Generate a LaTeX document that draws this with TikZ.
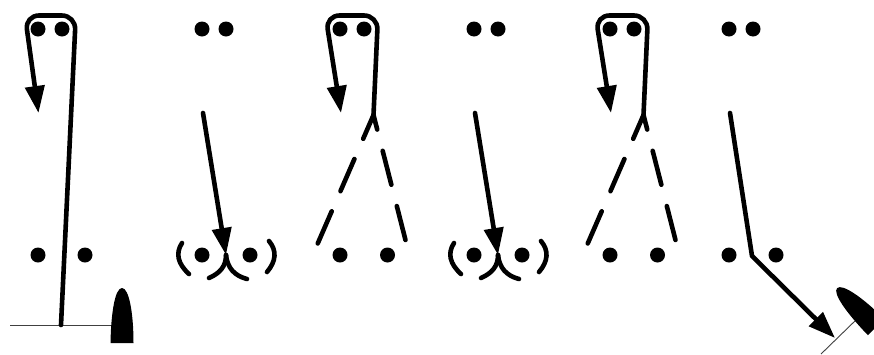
\documentclass[tikz,border=0pt]{standalone}
\usetikzlibrary{arrows.meta}
\tikzset{
  dot/.style={circle,fill=black,inner sep=0pt,minimum size=15pt},
  strand/.style={draw=black,line width=4.6pt,line cap=round,line join=round},
  rel/.style={strand,-{Triangle[length=27pt,width=19pt]}},
  dashstrand/.style={strand,dash pattern=on 35pt off 22pt},
  hair/.style={draw=black!75,line width=0.9pt},
  paddle/.style={fill=black,draw=none}
}
\newcommand{\paddleshape}{(-11.5,0) .. controls (-11,-30) and (-7,-55) .. (0,-55) .. controls (7,-55) and (11.5,-30) .. (11.5,0) -- cycle}
\begin{document}
\begin{tikzpicture}[x=1pt,y=-1pt]
  \useasboundingbox (0,0) rectangle (874,354);

  \node[dot] (a1) at (38,29) {};
  \node[dot] (a2) at (62,29) {};
  \node[dot] (a3) at (38,255) {};
  \node[dot] (a4) at (85,255) {};
  \coordinate (afoot) at (61,325);
  \coordinate (ahairl) at (10,325);
  \coordinate (ahairr) at (112,325);
  \coordinate (atip) at (38.5,113);
  \draw[hair] (ahairl) -- (ahairr);
  \fill[paddle,shift={(122,343)}] \paddleshape;
  \draw[rel,rounded corners=14pt] (afoot) -- (75.8,15.5) -- (25,15.5) -- (atip);

  \foreach \px/\pn in {340/c,610/e}{
    \node[dot] (\pn1) at (\px,29) {};
    \node[dot] (\pn2) at (\px+24,29) {};
    \node[dot] (\pn3) at (\px,255) {};
    \node[dot] (\pn4) at (\px+47.5,255) {};
    \coordinate (\pn fork) at (\px+33.5,115);
    \coordinate (\pn left) at (\px-22.5,244);
    \coordinate (\pn right) at (\px+66,242);
    \coordinate (\pn tip) at (\px+1,113);
    \draw[rel,rounded corners=14pt] (\pn fork) -- (\px+38,15.5) -- (\px-14.5,15.5) -- (\pn tip);
    \draw[dashstrand,dash phase=9pt] (\pn fork) -- (\pn left);
    \draw[dashstrand,dash phase=20pt] (\pn fork) -- (\pn right);
  }

  \foreach \px/\pn in {202/b,474/d}{
    \node[dot] (\pn1) at (\px,29) {};
    \node[dot] (\pn2) at (\px+24,29) {};
    \node[dot] (\pn3) at (\px,255) {};
    \node[dot] (\pn4) at (\px+48,255) {};
    \coordinate (\pn start) at (\px+1,113);
    \coordinate (\pn tip) at (\px+24,255);
    \draw[strand] (\px-20,243) .. controls (\px-26.7,253.3) and (\px-24.3,263.7) .. (\px-13,274);
    \draw[strand] (\px+67,241) .. controls (\px+75,250.7) and (\px+74.3,261) .. (\px+65,272);
    \draw[strand] (\pn tip) .. controls (\px+24,266) and (\px+18.3,273) .. (\px+7,278);
    \draw[strand] (\pn tip) .. controls (\px+25.3,267.7) and (\px+32.3,275.7) .. (\px+45,279);
    \draw[rel] (\pn start) -- (\pn tip);
  }

  \node[dot] (f1) at (729,29) {};
  \node[dot] (f2) at (753,29) {};
  \node[dot] (f3) at (729,255) {};
  \node[dot] (f4) at (776,255) {};
  \coordinate (fstart) at (730,113);
  \coordinate (fbend) at (752,256);
  \coordinate (ftip) at (835,338);
  \coordinate (fhairl) at (821,354);
  \coordinate (fhairr) at (858,318);
  \draw[hair] (fhairl) -- (fhairr);
  \fill[paddle,shift={(876,327)},rotate=45] \paddleshape;
  \draw[rel] (fstart) -- (fbend) -- (ftip);
\end{tikzpicture}
\end{document}
